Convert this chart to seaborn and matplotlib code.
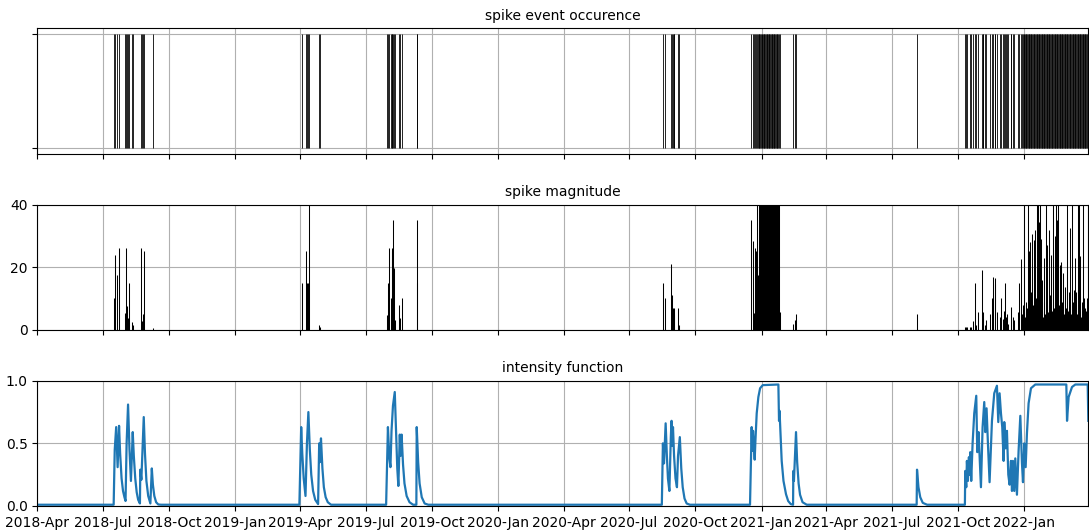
import matplotlib
matplotlib.use("Agg")
import matplotlib.pyplot as plt
import matplotlib.dates as mdates
import pandas as pd
import seaborn as sns

START = "2018-04-01"
END = "2022-03-31"

# spike events: day offset from START and magnitude
event_day = [
    107, 108, 110, 113, 122, 123, 125, 126, 127, 132, 133, 144, 146, 147, 148, 160,
    367, 373, 374, 376, 377, 391, 393,
    486, 487, 488, 491, 492, 493, 494, 495, 497, 503, 504, 506, 527, 528,
    869, 872, 880, 881, 883, 884, 885, 890, 892,
    992, 994, 995, 997, 998,
    1000, 1001, 1002, 1003, 1004, 1005, 1006, 1007, 1008, 1009, 1010, 1011, 1012, 1013,
    1014, 1015, 1016, 1017, 1018, 1019, 1020, 1021, 1022, 1023, 1024, 1025, 1026, 1027,
    1028, 1029, 1030, 1031,
    1050, 1052, 1054,
    1222,
    1289, 1290, 1292, 1295, 1297, 1300, 1302, 1304, 1307, 1312, 1313, 1314, 1316, 1318,
    1324, 1326, 1328, 1330, 1331, 1333, 1337, 1338, 1341, 1343, 1344, 1345, 1347, 1348,
    1352, 1353, 1355, 1357, 1362, 1364, 1366,
    1368, 1369, 1370, 1371, 1372, 1373, 1374, 1375, 1376, 1377, 1378, 1379, 1380, 1381,
    1382, 1383, 1384, 1385, 1386, 1387, 1388, 1389, 1390, 1391, 1392, 1393, 1394, 1395,
    1396, 1397, 1398, 1399, 1400, 1401, 1402, 1403, 1404, 1405, 1406, 1407, 1408, 1409,
    1410, 1411, 1412, 1413, 1414, 1415, 1416, 1417, 1418, 1419, 1420, 1421, 1422, 1423,
    1424, 1425, 1426, 1427, 1428, 1429, 1430, 1431, 1432, 1433, 1434, 1435, 1436, 1437,
    1438, 1439, 1440, 1441, 1442, 1443, 1444, 1445, 1446, 1447, 1448, 1449, 1450, 1451,
    1452, 1453, 1454, 1455, 1456, 1457, 1458, 1459,
]
event_magnitude = [
    10, 24, 17.5, 26, 5.3, 26, 7.7, 3.6, 15, 2.4, 1.6, 26, 2.8, 5, 25, 0.7,
    15, 25, 15, 15, 45, 1.6, 1,
    4.8, 15, 26, 10, 26, 25, 35, 19.6, 3, 8, 3.6, 10, 35, 15,
    15, 10, 21, 11, 7, 7, 5, 7, 1.6,
    35, 28.5, 5.3, 26, 25,
    45, 17.5, 52, 41, 60, 48, 55, 43, 66, 50, 47, 58, 44, 62,
    49, 53, 46, 70, 51, 45, 57, 42, 63, 48, 54, 44, 59, 47,
    52, 45, 41, 5.8,
    2, 3, 5,
    5,
    1, 0.8, 1, 1, 1, 2.8, 15, 1.5, 5.6, 19, 5.6, 3.5, 1.6, 3,
    5, 10, 17, 16.5, 14.5, 5.8, 4, 10, 3.5, 6, 15, 4, 5, 2,
    3, 7.4, 4, 3, 5.8, 15, 22.5,
    5, 8, 45, 6, 4, 9, 3, 7, 50, 25, 10, 28, 6, 12,
    30.5, 8, 28.7, 5, 32, 10, 55, 9, 60, 34.5, 7, 48, 29, 6,
    16, 4, 9, 23, 5, 44, 27, 8, 5.8, 3, 32, 11, 24, 6,
    4, 52, 7, 30, 9, 46, 5, 35, 58, 8, 20.7, 6, 21.7, 4,
    9, 18, 5, 13, 13.8, 7, 47, 4, 6, 12, 8, 32.6, 5, 42,
    9, 3, 12.6, 7, 23, 12, 5, 8, 49, 56, 6, 23.5, 4, 9,
    43, 5, 10, 3, 7, 6, 10, 8,
]

# intensity function: day offset from START and value
intensity_day = [
    0, 106,
    107.5, 109.5, 111.5, 113.5, 115, 117, 119, 121, 122.5, 124, 126, 128, 130, 132.5,
    134, 136, 138, 140, 142.5, 143, 144.5, 147.8, 149.5, 151.5, 154, 157, 159, 160.5,
    162.5, 165, 168, 172,
    364, 366.5, 368, 370, 372.5, 374.5, 376.5, 378.5, 380.5, 383, 386, 390, 391.5,
    392.5, 394, 396, 398, 400.5, 403.5, 408,
    484.5, 487, 489, 490.5, 492, 494, 496.5, 498.5, 500, 501.5, 503.5, 504.5, 506, 508,
    510, 513, 517, 522, 526.5, 527, 529, 531, 534, 538, 543,
    867.5, 869, 870.5, 872.8, 874.5, 876, 878, 880, 881, 882, 883, 884.5, 886.5, 888.5,
    890, 892.5, 894.5, 896.5, 899, 902, 906.5,
    990, 992.3, 993, 994.2, 996.5, 997.5, 999.3, 1001.6, 1004, 1007.7, 1029.4, 1030.3,
    1031, 1032.5, 1034, 1036.5, 1040, 1043, 1046.6, 1049.8, 1050.2, 1051, 1053.9,
    1055.5, 1057.5, 1059.5, 1063, 1068.8,
    1221.5, 1222, 1224, 1226.5, 1230, 1236,
    1288.5, 1289, 1290.4, 1291.3, 1292.7, 1294.1, 1295, 1296, 1297.3, 1299.2, 1301.5,
    1304.3, 1305.7, 1307.5, 1310.8, 1313.1, 1315.4, 1316.8, 1318.6, 1320.5, 1322.8,
    1326.1, 1329.3, 1333, 1334.9, 1336.7, 1338.6, 1340.4, 1342.3, 1343.2, 1345.1,
    1346.9, 1348.8, 1350.6, 1352.5, 1353.9, 1355.3, 1357.1, 1358.5, 1360.8, 1363.1,
    1365.5, 1367.8, 1369.2, 1371, 1372.9, 1374.7, 1377, 1380.3, 1386.3, 1429.4, 1430.4,
    1432.6, 1437.3, 1441.9, 1459.1, 1460,
]
intensity_value = [
    0.01, 0.01,
    0.45, 0.63, 0.31, 0.64, 0.42, 0.22, 0.12, 0.07, 0.04, 0.5, 0.81, 0.45, 0.2, 0.59,
    0.4, 0.22, 0.11, 0.05, 0.02, 0.29, 0.21, 0.71, 0.42, 0.2, 0.08, 0.02, 0.3, 0.17,
    0.08, 0.03, 0.012, 0.01,
    0.01, 0.63, 0.42, 0.22, 0.08, 0.5, 0.75, 0.45, 0.25, 0.12, 0.05, 0.015, 0.5,
    0.35, 0.54, 0.3, 0.15, 0.07, 0.03, 0.01,
    0.01, 0.63, 0.38, 0.31, 0.6, 0.8, 0.91, 0.55, 0.3, 0.16, 0.57, 0.4, 0.57, 0.33,
    0.18, 0.08, 0.03, 0.01, 0.01, 0.63, 0.35, 0.18, 0.07, 0.02, 0.01,
    0.01, 0.5, 0.34, 0.66, 0.4, 0.22, 0.12, 0.55, 0.68, 0.48, 0.63, 0.4, 0.22, 0.15,
    0.4, 0.55, 0.3, 0.15, 0.06, 0.02, 0.01,
    0.01, 0.63, 0.44, 0.6, 0.37, 0.52, 0.74, 0.87, 0.94, 0.965, 0.97, 0.68,
    0.76, 0.55, 0.36, 0.2, 0.094, 0.04, 0.015, 0.01, 0.28, 0.2, 0.59,
    0.35, 0.18, 0.09, 0.03, 0.01,
    0.01, 0.29, 0.15, 0.07, 0.025, 0.01,
    0.01, 0.28, 0.15, 0.36, 0.2, 0.39, 0.25, 0.43, 0.2, 0.5, 0.74,
    0.88, 0.43, 0.59, 0.15, 0.63, 0.83, 0.59, 0.78, 0.5, 0.19,
    0.68, 0.9, 0.96, 0.67, 0.9, 0.74, 0.63, 0.36, 0.67, 0.46,
    0.6, 0.25, 0.17, 0.36, 0.12, 0.36, 0.12, 0.38, 0.09, 0.44,
    0.72, 0.34, 0.19, 0.5, 0.31, 0.58, 0.82, 0.94, 0.97, 0.97, 0.68,
    0.87, 0.95, 0.97, 0.97, 0.68,
]

titles = ["spike event occurence", "spike magnitude", "intensity function"]
magnitude_ticks = [0, 20, 40]
intensity_ticks = [0.0, 0.5, 1.0]

start = pd.Timestamp(START)
event_dates = start + pd.to_timedelta(event_day, unit="D")
intensity_dates = start + pd.to_timedelta(intensity_day, unit="D")
intensity_df = pd.DataFrame({"date": intensity_dates, "intensity": intensity_value})

fig, axes = plt.subplots(3, 1, figsize=(10.89, 5.31), dpi=100, sharex=True)
fig.subplots_adjust(left=0.0343, right=0.9994, top=0.9467, bottom=0.0471, hspace=0.407)
ax0, ax1, ax2 = axes

# top: event occurrence
ax0.eventplot(mdates.date2num(event_dates), lineoffsets=0.5, linelengths=1.0,
              colors="black", linewidths=0.6)
ax0.set_yticks([0, 1])
ax0.set_yticklabels([])
ax0.set_ylim(-0.045, 1.05)
ax0.set_title(titles[0], fontsize=10)
ax0.grid(True)

# middle: magnitude
ax1.vlines(event_dates, 0, event_magnitude, colors="black", linewidth=0.75)
ax1.set_ylim(0, 40)
ax1.set_yticks(magnitude_ticks)
ax1.set_title(titles[1], fontsize=10)
ax1.grid(True)

# bottom: intensity
sns.lineplot(data=intensity_df, x="date", y="intensity", ax=ax2,
             color="#1f77b4", linewidth=1.6)
ax2.set_ylim(0, 1)
ax2.set_yticks(intensity_ticks)
ax2.set_xlabel("")
ax2.set_ylabel("")
ax2.set_title(titles[2], fontsize=10)
ax2.grid(True)

ax2.set_xlim(pd.Timestamp(START), pd.Timestamp(END))
ax2.xaxis.set_major_locator(mdates.MonthLocator(bymonth=[1, 4, 7, 10]))
ax2.xaxis.set_major_formatter(mdates.DateFormatter("%Y-%b"))
for ax in axes:
    ax.tick_params(labelsize=10)

fig.savefig("out.png", dpi=100)
